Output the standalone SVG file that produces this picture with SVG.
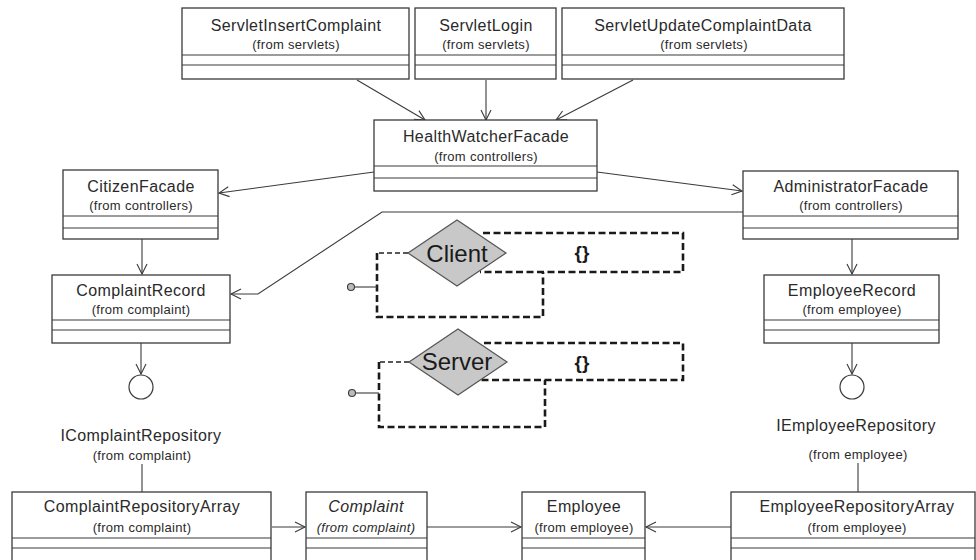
<svg xmlns="http://www.w3.org/2000/svg" width="976" height="560" viewBox="0 0 976 560">
  <defs>
    <marker id="open" markerUnits="userSpaceOnUse" markerWidth="14" markerHeight="14" refX="11" refY="6" orient="auto">
      <path d="M1,1 L11,6 L1,11" fill="none" stroke="#3a3a3a" stroke-width="1.1"/>
    </marker>
    <style>
      .box { fill: #ffffff; stroke: #3a3a3a; stroke-width: 1.3; }
      .div { stroke: #3a3a3a; stroke-width: 1.2; }
      .name { font-family: "Liberation Sans", Arial, sans-serif; font-size: 16px; letter-spacing: 0.4px; fill: #2a2a2a; text-anchor: middle; }
      .pkg { font-family: "Liberation Sans", Arial, sans-serif; font-size: 13px; letter-spacing: 0.3px; fill: #2a2a2a; text-anchor: middle; }
      .it { font-style: italic; }
      .conn { fill: none; stroke: #3a3a3a; stroke-width: 1.1; }
      .arr { marker-end: url(#open); }
      .iface { fill: #ffffff; stroke: #3a3a3a; stroke-width: 1.2; }
      .dia { fill: #c8c8c8; stroke: #555555; stroke-width: 1.2; }
      .thick { fill: none; stroke: #1a1a1a; stroke-width: 2.6; stroke-dasharray: 7 3.5; }
      .thin { fill: none; stroke: #222222; stroke-width: 1.3; stroke-dasharray: 5 3; }
      .big { font-family: "Liberation Sans", Arial, sans-serif; font-size: 24px; fill: #1a1a1a; text-anchor: middle; }
      .brace { font-family: "Liberation Sans", Arial, sans-serif; font-size: 19px; font-weight: bold; fill: #1a1a1a; text-anchor: middle; }
    </style>
  </defs>

  <rect width="976" height="560" fill="#ffffff"/>

  <!-- dependency connectors -->
  <g id="connectors">
    <line class="conn arr" x1="357" y1="80" x2="425" y2="120"/>
    <line class="conn arr" x1="486" y1="80" x2="486" y2="120"/>
    <line class="conn arr" x1="633" y1="80" x2="556" y2="120"/>
    <line class="conn arr" x1="374" y1="172" x2="219" y2="193"/>
    <line class="conn arr" x1="597" y1="172" x2="742" y2="191"/>
    <polyline class="conn arr" points="743,212 382,212 258,294 231,294"/>
    <line class="conn arr" x1="142" y1="239" x2="142" y2="274"/>
    <line class="conn arr" x1="852" y1="239" x2="852" y2="274"/>
    <line class="conn arr" x1="141" y1="343" x2="141" y2="374"/>
    <line class="conn arr" x1="852" y1="343" x2="852" y2="374"/>
    <line class="conn" x1="142" y1="464" x2="142" y2="492"/>
    <line class="conn" x1="858" y1="463" x2="858" y2="492"/>
    <line class="conn arr" x1="272" y1="527" x2="305" y2="527"/>
    <line class="conn arr" x1="427" y1="527" x2="521" y2="527"/>
    <line class="conn arr" x1="731" y1="527" x2="646" y2="527"/>
  </g>

  <!-- servlet classes -->
  <g id="servletInsertComplaint">
    <rect class="box" x="182" y="8" width="227" height="71"/>
    <line class="div" x1="182" y1="55" x2="409" y2="55"/>
    <line class="div" x1="182" y1="65" x2="409" y2="65"/>
    <text class="name" x="296" y="31">ServletInsertComplaint</text>
    <text class="pkg" x="296" y="49">(from servlets)</text>
  </g>
  <g id="servletLogin">
    <rect class="box" x="415" y="8" width="141" height="71"/>
    <line class="div" x1="415" y1="55" x2="556" y2="55"/>
    <line class="div" x1="415" y1="65" x2="556" y2="65"/>
    <text class="name" x="486" y="31">ServletLogin</text>
    <text class="pkg" x="486" y="49">(from servlets)</text>
  </g>
  <g id="servletUpdateComplaintData">
    <rect class="box" x="562" y="8" width="282" height="71"/>
    <line class="div" x1="562" y1="55" x2="844" y2="55"/>
    <line class="div" x1="562" y1="65" x2="844" y2="65"/>
    <text class="name" x="703" y="31">ServletUpdateComplaintData</text>
    <text class="pkg" x="704" y="49">(from servlets)</text>
  </g>

  <!-- controllers -->
  <g id="healthWatcherFacade">
    <rect class="box" x="374" y="120" width="223" height="71"/>
    <line class="div" x1="374" y1="166" x2="597" y2="166"/>
    <line class="div" x1="374" y1="178" x2="597" y2="178"/>
    <text class="name" x="486" y="142">HealthWatcherFacade</text>
    <text class="pkg" x="486" y="161">(from controllers)</text>
  </g>
  <g id="citizenFacade">
    <rect class="box" x="63" y="170" width="155" height="69"/>
    <line class="div" x1="63" y1="216" x2="218" y2="216"/>
    <line class="div" x1="63" y1="228" x2="218" y2="228"/>
    <text class="name" x="141" y="192">CitizenFacade</text>
    <text class="pkg" x="141" y="210">(from controllers)</text>
  </g>
  <g id="administratorFacade">
    <rect class="box" x="743" y="171" width="215" height="68"/>
    <line class="div" x1="743" y1="216" x2="958" y2="216"/>
    <line class="div" x1="743" y1="228" x2="958" y2="228"/>
    <text class="name" x="851" y="192">AdministratorFacade</text>
    <text class="pkg" x="851" y="210">(from controllers)</text>
  </g>

  <!-- records -->
  <g id="complaintRecord">
    <rect class="box" x="52" y="275" width="178" height="68"/>
    <line class="div" x1="52" y1="320" x2="230" y2="320"/>
    <line class="div" x1="52" y1="330" x2="230" y2="330"/>
    <text class="name" x="141" y="296">ComplaintRecord</text>
    <text class="pkg" x="141" y="314">(from complaint)</text>
  </g>
  <g id="employeeRecord">
    <rect class="box" x="764" y="275" width="175" height="68"/>
    <line class="div" x1="764" y1="320" x2="939" y2="320"/>
    <line class="div" x1="764" y1="330" x2="939" y2="330"/>
    <text class="name" x="852" y="296">EmployeeRecord</text>
    <text class="pkg" x="852" y="314">(from employee)</text>
  </g>

  <!-- repository interfaces -->
  <g id="iComplaintRepository">
    <circle class="iface" cx="141" cy="387" r="12"/>
    <text class="name" x="141" y="441">IComplaintRepository</text>
    <text class="pkg" x="142" y="460">(from complaint)</text>
  </g>
  <g id="iEmployeeRepository">
    <circle class="iface" cx="852" cy="387" r="12"/>
    <text class="name" x="856" y="431">IEmployeeRepository</text>
    <text class="pkg" x="858" y="459">(from employee)</text>
  </g>

  <!-- repositories and entities -->
  <g id="complaintRepositoryArray">
    <rect class="box" x="12" y="492" width="259" height="80"/>
    <line class="div" x1="12" y1="538" x2="271" y2="538"/>
    <line class="div" x1="12" y1="548" x2="271" y2="548"/>
    <text class="name" x="142" y="512">ComplaintRepositoryArray</text>
    <text class="pkg" x="142" y="532">(from complaint)</text>
  </g>
  <g id="complaint">
    <rect class="box" x="306" y="492" width="121" height="80"/>
    <line class="div" x1="306" y1="538" x2="427" y2="538"/>
    <line class="div" x1="306" y1="548" x2="427" y2="548"/>
    <text class="name it" x="366" y="512">Complaint</text>
    <text class="pkg it" x="366" y="532">(from complaint)</text>
  </g>
  <g id="employee">
    <rect class="box" x="522" y="492" width="123" height="80"/>
    <line class="div" x1="522" y1="538" x2="645" y2="538"/>
    <line class="div" x1="522" y1="548" x2="645" y2="548"/>
    <text class="name" x="584" y="512">Employee</text>
    <text class="pkg" x="584" y="532">(from employee)</text>
  </g>
  <g id="employeeRepositoryArray">
    <rect class="box" x="731" y="492" width="244" height="80"/>
    <line class="div" x1="731" y1="538" x2="975" y2="538"/>
    <line class="div" x1="731" y1="548" x2="975" y2="548"/>
    <text class="name" x="857" y="512">EmployeeRepositoryArray</text>
    <text class="pkg" x="857" y="532">(from employee)</text>
  </g>

  <!-- Client aspect -->
  <g id="client">
    <path class="thick" d="M483,233 H683 V272 H480"/>
    <path class="thin" d="M408,253 H377"/>
    <path class="thick" d="M377,253 V317 H543 V272"/>
    <line class="conn" x1="355" y1="287" x2="377" y2="287"/>
    <circle cx="351" cy="287" r="3.5" fill="#bbbbbb" stroke="#3a3a3a" stroke-width="1.1"/>
    <polygon class="dia" points="408,253 457,220 506,253 457,286"/>
    <text class="big" x="457" y="262">Client</text>
    <text class="brace" x="582" y="259">{}</text>
  </g>

  <!-- Server aspect -->
  <g id="server">
    <path class="thick" d="M484,343 H683 V380 H481"/>
    <path class="thin" d="M409,362 H379"/>
    <path class="thick" d="M379,362 V427 H545 V380"/>
    <line class="conn" x1="356" y1="393" x2="379" y2="393"/>
    <circle cx="352" cy="393" r="3.5" fill="#bbbbbb" stroke="#3a3a3a" stroke-width="1.1"/>
    <polygon class="dia" points="409,362 458,329 507,362 458,395"/>
    <text class="big" x="457" y="370">Server</text>
    <text class="brace" x="582" y="369">{}</text>
  </g>
</svg>
